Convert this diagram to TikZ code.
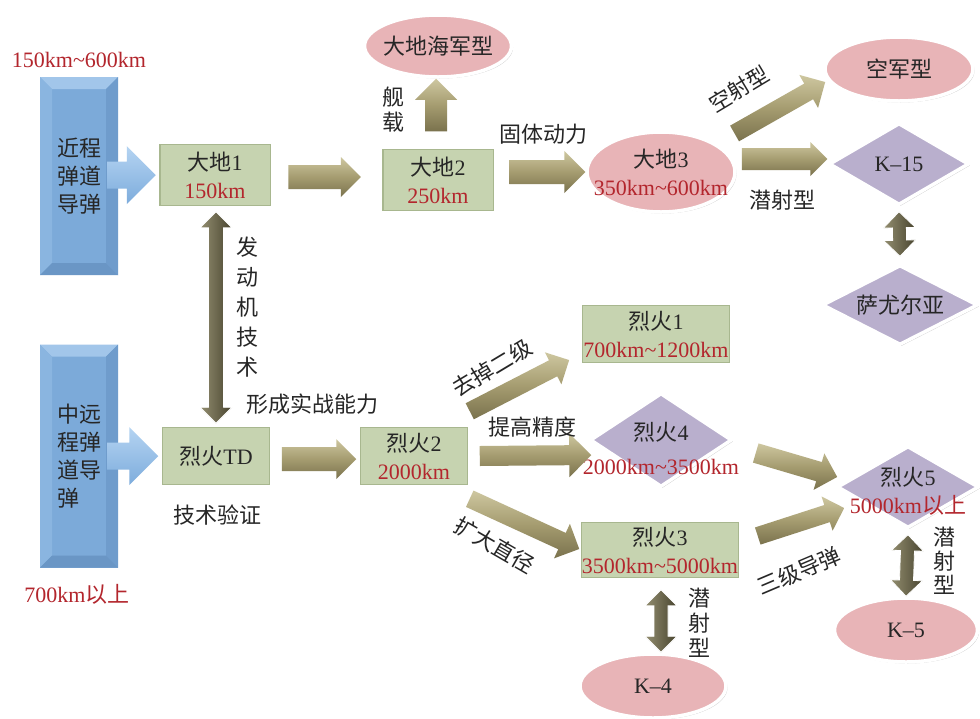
\documentclass[tikz,border=0pt]{standalone}
\usepackage{fontspec}
\setmainfont{Liberation Serif}
\newfontfamily\cjk{Noto Sans CJK SC}
\usetikzlibrary{shapes.geometric,shadows,calc}
\definecolor{boxgreen}{HTML}{C6D3B0}
\definecolor{boxedge}{HTML}{A8B78F}
\definecolor{pinkfill}{HTML}{E8B4B7}
\definecolor{purplefill}{HTML}{B9AFCD}
\definecolor{barblue}{HTML}{7CAAD9}
\definecolor{barlight}{HTML}{A2C6EA}
\definecolor{barleft}{HTML}{8AB5E0}
\definecolor{bardark}{HTML}{6F9CCC}
\definecolor{bardarker}{HTML}{6A96C5}
\definecolor{redtxt}{HTML}{B3262D}
\definecolor{khakimid}{HTML}{A59C70}
\definecolor{khakilight}{HTML}{CEC7A0}
\definecolor{khakidark}{HTML}{7A724D}
\definecolor{olivelight}{HTML}{938E70}
\definecolor{olivedark}{HTML}{48442F}
\definecolor{bluelight}{HTML}{B5D4F2}
\definecolor{bluedark}{HTML}{7DACDC}
\newcommand\zh[1]{{\cjk #1}}
\newcommand\rd[1]{\textcolor{redtxt}{#1}}
\newcommand\tld{\textasciitilde}
% single block arrow: [style]{from}{to}{shaft half width}{head half width}
\newcommand\blockarrow[5][]{%
  \path[#1] let \p1=(#2), \p2=(#3), \n1={atan2(\y2-\y1,\x2-\x1)}, \n2={veclen(\x2-\x1,\y2-\y1)} in
   [shift={(\p1)}, rotate=\n1]
   (0pt,#4) -- ({\n2-#5},#4) -- ({\n2-#5},#5) -- (\n2,0pt) -- ({\n2-#5},-#5) -- ({\n2-#5},-#4) -- (0pt,-#4) -- cycle;}
% double block arrow
\newcommand\dblarrow[5][]{%
  \path[#1] let \p1=(#2), \p2=(#3), \n1={atan2(\y2-\y1,\x2-\x1)}, \n2={veclen(\x2-\x1,\y2-\y1)} in
   [shift={(\p1)}, rotate=\n1]
   (0pt,0pt) -- (#5,#5) -- (#5,#4) -- ({\n2-#5},#4) -- ({\n2-#5},#5) -- (\n2,0pt) -- ({\n2-#5},-#5) -- ({\n2-#5},-#4) -- (#5,-#4) -- (#5,-#5) -- cycle;}
\begin{document}
\begin{tikzpicture}[x=1pt,y=-1pt,
  base/.style={font=\fontsize{22}{28}\selectfont, text=black!85, inner sep=0pt, align=center},
  zhtxt/.style={base, font=\fontsize{22}{28}\selectfont\cjk},
  vtxt/.style={base, font=\fontsize{22}{#1}\selectfont\cjk},
  shadowed/.style={drop shadow={shadow xshift=1.5pt, shadow yshift=-1.5pt, opacity=0.3, fill=black!70}},
  box/.style={base, rectangle, fill=boxgreen, draw=white, line width=3.5pt, shadowed,
    path picture={\draw[boxedge, line width=6pt] (path picture bounding box.south west) rectangle (path picture bounding box.north east);}},
  ell/.style={base, ellipse, fill=pinkfill, draw=white, line width=3.5pt, shadowed},
  dia/.style={base, diamond, fill=purplefill, draw=white, line width=3.5pt, shadowed},
  inlabel/.style={label={[base]center:{#1}}},
  bar/.style={base, rectangle, fill=barblue, path picture={
    \def\bvw{12pt}
    \fill[barlight] (path picture bounding box.north west) -- (path picture bounding box.north east) -- ([xshift=-\bvw,yshift=-\bvw]path picture bounding box.north east) -- ([xshift=\bvw,yshift=-\bvw]path picture bounding box.north west) -- cycle;
    \fill[barleft] (path picture bounding box.north west) -- ([xshift=\bvw,yshift=-\bvw]path picture bounding box.north west) -- ([xshift=\bvw,yshift=\bvw]path picture bounding box.south west) -- (path picture bounding box.south west) -- cycle;
    \fill[bardark] (path picture bounding box.north east) -- ([xshift=-\bvw,yshift=-\bvw]path picture bounding box.north east) -- ([xshift=-\bvw,yshift=\bvw]path picture bounding box.south east) -- (path picture bounding box.south east) -- cycle;
    \fill[bardarker] (path picture bounding box.south west) -- ([xshift=\bvw,yshift=\bvw]path picture bounding box.south west) -- ([xshift=-\bvw,yshift=\bvw]path picture bounding box.south east) -- (path picture bounding box.south east) -- cycle;
  }},
  khaki/.style={top color=khakilight, bottom color=khakidark, middle color=khakimid},
  bluearr/.style={top color=bluelight, bottom color=bluedark},
  dbl/.style={left color=olivelight, right color=olivedark, draw=white, line width=0.8pt},
]
\path[use as bounding box, fill=white] (0,0) rectangle (980,718);

% blue bars
\node[bar, minimum width=78pt, minimum height=198pt] (bar1) at (79,176) {\zh{近程}\\\zh{弹道}\\\zh{导弹}};
\node[bar, minimum width=78pt, minimum height=223pt, align=left] (bar2) at (79,456) {\zh{中远}\\\zh{程弹}\\\zh{道导}\\\zh{弹}};
\node[base, text=redtxt] (r1) at (79,60) {150km\tld600km};
\node[base, text=redtxt] (r2) at (77,594) {700km\zh{以上}};

% boxes
\node[box, minimum width=115pt, minimum height=66pt] (d1) at (215,175) {\zh{大地}1\\\rd{150km}};
\node[box, minimum width=115pt, minimum height=66pt] (d2) at (438,180) {\zh{大地}2\\\rd{250km}};
\node[box, minimum width=112pt, minimum height=62pt] (td) at (216,456) {\zh{烈火}TD};
\node[box, minimum width=112pt, minimum height=62pt] (a2) at (414,456) {\zh{烈火}2\\\rd{2000km}};
\node[box, minimum width=152pt, minimum height=62pt] (a1) at (656,334) {\zh{烈火}1\\\rd{700km\tld1200km}};
\node[box, minimum width=162pt, minimum height=60pt] (a3) at (660,550) {\zh{烈火}3\\\rd{3500km\tld5000km}};

% ellipses
\node[ell, minimum width=147pt, minimum height=62pt, inlabel={\zh{大地海军型}}] (navy) at (438,46) {};
\node[ell, minimum width=148pt, minimum height=80pt, inlabel={\zh{大地}3\\\rd{350km\tld600km}}] (d3) at (661,172) {};
\node[ell, minimum width=148pt, minimum height=64pt, inlabel={\zh{空军型}}] (air) at (899,69) {};
\node[ell, minimum width=146pt, minimum height=64pt, inlabel={K–4}] (k4) at (653,686) {};
\node[ell, minimum width=143pt, minimum height=64pt, inlabel={K–5}] (k5) at (906,630) {};

% diamonds
\node[dia, minimum width=140pt, minimum height=82pt, inlabel={K–15}] (k15) at (899,164) {};
\node[dia, minimum width=156pt, minimum height=80pt, inlabel={\zh{萨尤尔亚}}] (say) at (900,305) {};
\node[dia, minimum width=142pt, minimum height=94pt, label={[base, yshift=-8pt]center:{\zh{烈火}4\\[6pt]\rd{2000km\tld3500km}}}] (a4) at (661,440) {};
\node[dia, minimum width=142pt, minimum height=82pt, label={[base, yshift=-4pt]center:{\zh{烈火}5\\\rd{5000km\zh{以上}}}}] (a5) at (908,487) {};

% connectors
\blockarrow[bluearr]{$(bar1.east |- d1.west)+(-11,0)$}{d1.west}{13.5pt}{29pt}
\blockarrow[bluearr]{$(bar2.east |- td.west)+(-11,0)$}{td.west}{13.5pt}{29pt}
\blockarrow[khaki]{$(d1.east)+(14,2)$}{$(d2.west |- d1.east)+(-18,2)$}{12pt}{20pt}
\blockarrow[khaki]{$(d2.north)+(-2,-14)$}{$(navy.south)+(-2,0)$}{11pt}{21pt}
\blockarrow[khaki]{$(d2.east |- d3.west)+(12,0)$}{d3.west}{12pt}{21pt}
\blockarrow[khaki]{$(d3.north east)+(20,-9)$}{$(air.west)+(2,13)$}{9pt}{19pt}
\blockarrow[khaki]{$(d3.east)+(5,-13)$}{$(k15.west)+(0,-5)$}{11pt}{17pt}
\dblarrow[dbl]{$(k15.south)+(0,5)$}{$(say.north)+(0,-7)$}{7pt}{16pt}
\dblarrow[dbl]{$(d1.south)+(1,2)$}{$(d1.south |- td.north)+(1,0)$}{7.5pt}{16pt}
\blockarrow[khaki]{$(td.east)+(8,3)$}{$(a2.west)+(0,3)$}{12pt}{20pt}
\blockarrow[khaki]{$(a2.north east)+(-2,-12)$}{$(a1.west)+(-9,26)$}{9pt}{18pt}
\blockarrow[khaki]{$(a2.east)+(8,0)$}{$(a4.west)+(3,15)$}{10pt}{22pt}
\blockarrow[khaki]{$(a2.south east)+(-2,10)$}{$(a3.west)+(2,-1)$}{9pt}{19pt}
\blockarrow[khaki]{$(a4.east)+(22,13)$}{$(a5.west)+(2,-10)$}{10pt}{19pt}
\blockarrow[khaki]{$(a3.east)+(15,-14)$}{$(a5.west)+(9,21)$}{9pt}{18pt}
\dblarrow[dbl]{$(a3.south)+(1,8)$}{$(a3.south |- k4.north)+(1,0)$}{7pt}{16pt}
\dblarrow[dbl]{$(a5.south)+(0,5)$}{k5.north}{7pt}{16pt}

% connector labels
\node[vtxt=25] (t1) at (393,110) {舰\\载};
\node[zhtxt] (t2) at (543,134) {固体动力};
\node[zhtxt, rotate=31] (t3) at (739,89) {空射型};
\node[zhtxt] (t4) at (782,200) {潜射型};
\node[vtxt=30] (t5) at (247,307) {发\\动\\机\\技\\术};
\node[zhtxt] (t6) at (312,404) {形成实战能力};
\node[zhtxt] (t7) at (217,515) {技术验证};
\node[zhtxt, rotate=31] (t8) at (492,368) {去掉二级};
\node[zhtxt] (t9) at (532,427) {提高精度};
\node[zhtxt, rotate=-30] (t10) at (495,545) {扩大直径};
\node[zhtxt, rotate=23] (t11) at (799,571) {三级导弹};
\node[vtxt=25] (t12) at (699,623) {潜\\射\\型};
\node[vtxt=24] (t13) at (944,561) {潜\\射\\型};
\end{tikzpicture}
\end{document}
